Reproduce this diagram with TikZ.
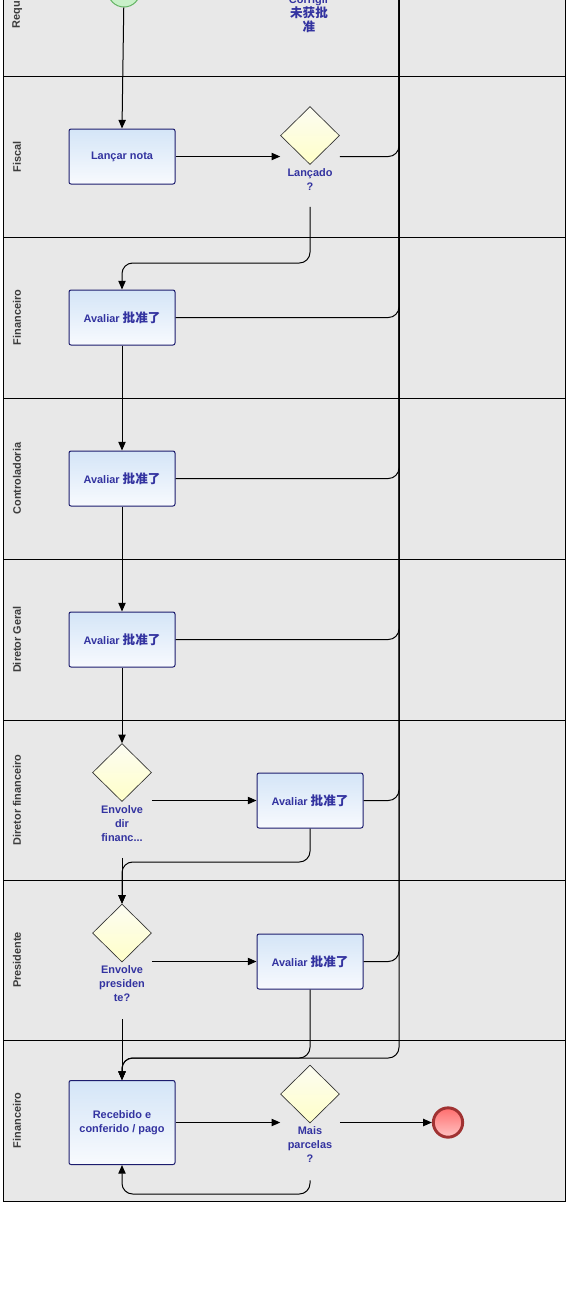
\documentclass[tikz,border=0pt]{standalone}
\usepackage{fontspec}
\setmainfont{Liberation Sans}
\newfontfamily\cjk{Noto Sans CJK SC}[Scale=1.15]
\usetikzlibrary{shapes.geometric, arrows.meta}

\definecolor{lanegray}{RGB}{232,232,232}
\definecolor{lanetext}{RGB}{60,60,60}
\definecolor{tasktext}{RGB}{51,51,160}
\definecolor{taskedge}{RGB}{28,28,110}
\definecolor{tasktop}{RGB}{212,229,247}
\definecolor{taskbot}{RGB}{248,250,254}
\definecolor{gatetop}{RGB}{252,252,242}
\definecolor{gatebot}{RGB}{255,255,200}
\definecolor{startfill}{RGB}{200,240,200}
\definecolor{startedge}{RGB}{100,180,100}
\definecolor{endtop}{RGB}{255,110,110}
\definecolor{endbot}{RGB}{255,195,195}
\definecolor{endedge}{RGB}{160,50,50}

\tikzstyle{lanelabel} = [rotate=90, inner sep=0pt, text=lanetext, font=\fontsize{8.2}{10.5}\selectfont\bfseries]
\tikzstyle{task} = [rectangle, rounded corners=1.5pt, minimum width=79.5pt, minimum height=41.25pt, inner sep=0pt, text centered, align=center, draw=taskedge, line width=0.75pt, top color=tasktop, bottom color=taskbot, text=tasktext, font=\fontsize{8.2}{10.5}\selectfont\bfseries]
\tikzstyle{gatebox} = [rectangle, minimum width=44.25pt, inner sep=0pt]
\tikzstyle{gate} = [diamond, minimum width=44.25pt, minimum height=43.5pt, inner sep=0pt, draw=black!80, line width=0.5pt, top color=gatetop, bottom color=gatebot]
\tikzstyle{gatetext} = [anchor=north, yshift=-2.5pt, inner sep=0pt, align=center, text=tasktext, font=\fontsize{8.2}{10.5}\selectfont\bfseries]
\tikzstyle{startev} = [circle, minimum size=24pt, inner sep=0pt, draw=startedge, line width=0.75pt, fill=startfill]
\tikzstyle{endev} = [circle, minimum size=22pt, inner sep=0pt, draw=endedge, line width=2.2pt, top color=endtop, bottom color=endbot]
\tikzstyle{arrow} = [line width=0.75pt, rounded corners=8pt, ->, >={Triangle[length=6.5pt, width=5.5pt]}]
\tikzstyle{flow} = [line width=0.75pt, rounded corners=8pt]

\begin{document}
\begin{tikzpicture}[x=0.75pt, y=-0.75pt, node distance=120.75pt]

    \useasboundingbox (0,0) rectangle (572,1297);
    \clip (0,0) rectangle (572,1297);

    % lanes
    \foreach \name/\top/\bot [count=\i] in {Requisitante/-85/76, Fiscal/76/237, Financeiro/237/398, Controladoria/398/559, Diretor Geral/559/720, Diretor financeiro/720/880, Presidente/880/1040, Financeiro/1040/1201} {
        \draw[fill=lanegray, line width=0.75pt] (3,\top) rectangle (565,\bot);
        \node (lane\i) [lanelabel] at (17,{(\top+\bot)/2}) {\name};
    }

    \node (start) [startev] at (124,-9) {};
    \node (corrigirL) [gatetext, anchor=south, yshift=0pt] at (309,30) {Corrigir\\{\cjk 未获批}\\{\cjk 准}};
    \coordinate (corrigir) at (399,-60);

    \node (lancar) [task] at (122,156.5) {Lançar nota};
    \node (lancado) [gatebox, minimum height=75pt, right of=lancar, xshift=20.25pt] {};
    \node (lancadoG) [gate, anchor=north] at (lancado.north) {};
    \node (lancadoL) [gatetext] at (lancadoG.south) {Lançado\\?};

    \node (avfin) [task, below of=lancar] {Avaliar {\cjk 批准了}};
    \node (avcont) [task, below of=avfin] {Avaliar {\cjk 批准了}};
    \node (avdg) [task, below of=avcont] {Avaliar {\cjk 批准了}};

    \node (envdir) [gatebox, minimum height=85.5pt, below of=avdg] {};
    \node (envdirG) [gate, anchor=north] at (envdir.north) {};
    \node (envdirL) [gatetext] at (envdirG.south) {Envolve\\dir\\financ...};
    \node (avdir) [task, right of=envdir, xshift=20.25pt] {Avaliar {\cjk 批准了}};

    \node (envpres) [gatebox, minimum height=86.25pt, below of=envdir] {};
    \node (envpresG) [gate, anchor=north] at (envpres.north) {};
    \node (envpresL) [gatetext] at (envpresG.south) {Envolve\\presiden\\te?};
    \node (avpres) [task, right of=envpres, xshift=20.25pt] {Avaliar {\cjk 批准了}};

    \node (recebido) [task, minimum height=63pt, below of=envpres] {Recebido e\\conferido / pago};
    \node (mais) [gatebox, minimum height=86.25pt, right of=recebido, xshift=20.25pt] {};
    \node (maisG) [gate, anchor=north] at (mais.north) {};
    \node (maisL) [gatetext] at (maisG.south) {Mais\\parcelas\\?};
    \node (end) [endev, right of=mais, xshift=-17.25pt] {};

    \coordinate (m1) at (122,263);
    \coordinate (m2) at (122,862);
    \coordinate (m3) at (122,1058);
    \coordinate (m4) at (122,1194);

    \draw [arrow] (start) -- (lancar.north);
    \draw [arrow] (lancar.east) -- (lancado.west);
    \draw [arrow] (lancado.south) |- (m1) -- (avfin.north);
    \draw [arrow] (avfin) -- (avcont);
    \draw [arrow] (avcont) -- (avdg);
    \draw [arrow] (avdg.south) -- (envdir.north);
    \draw [arrow] (envdir.east) -- (avdir.west);
    \draw [arrow] (envdir.south) -- (envpres.north);
    \draw [arrow] (avdir.south) |- (m2) -- (envpres.north);
    \draw [arrow] (envpres.east) -- (avpres.west);
    \draw [arrow] (envpres.south) -- (recebido.north);
    \draw [arrow] (avpres.south) |- (m3) -- (recebido.north);
    \draw [arrow] (corrigir) |- (m3) -- (recebido.north);
    \draw [arrow] (recebido.east) -- (mais.west);
    \draw [arrow] (mais.south) |- (m4) -- (recebido.south);
    \draw [arrow] (mais.east) -- (end.west);

    % back to the requester
    \draw [flow] (lancado.east) -| (corrigir);
    \draw [flow] (avfin.east) -| (corrigir);
    \draw [flow] (avcont.east) -| (corrigir);
    \draw [flow] (avdg.east) -| (corrigir);
    \draw [flow] (avdir.east) -| (corrigir);
    \draw [flow] (avpres.east) -| (corrigir);

\end{tikzpicture}
\end{document}
